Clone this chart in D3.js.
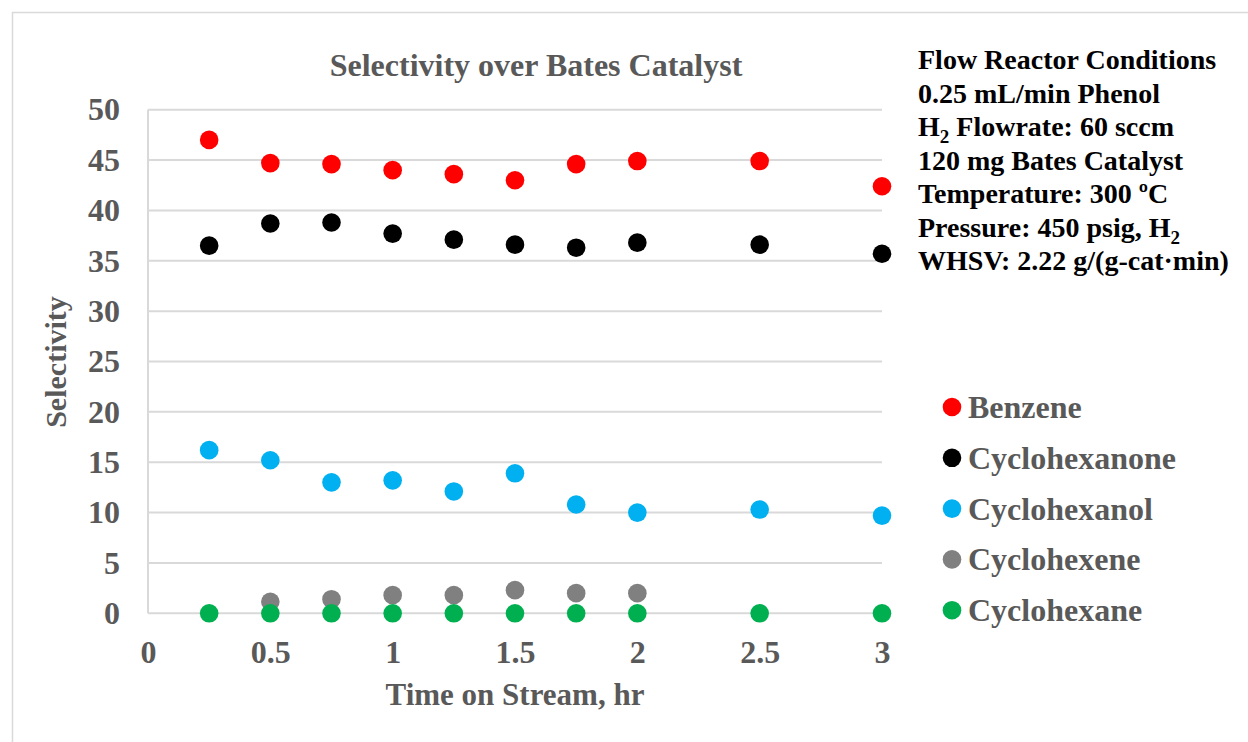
<!DOCTYPE html>
<html>
<head>
<meta charset="utf-8">
<script src="https://cdn.jsdelivr.net/npm/d3@7"></script>
<style>
  html, body { margin: 0; padding: 0; background: #fff; }
  svg { display: block; }
  text { font-family: "Liberation Serif", "Times New Roman", serif; font-weight: bold; }
</style>
</head>
<body>
<svg id="chart" width="1248" height="742"></svg>
<script>
// Time on stream (hr) for each sample
const timeFull = [0.25, 0.5, 0.75, 1, 1.25, 1.5, 1.75, 2, 2.5, 3];
const timeCyclohexene = [0.5, 0.75, 1, 1.25, 1.5, 1.75, 2];

// Selectivity (%) for each product
const benzene       = [47.0, 44.7, 44.6, 44.0, 43.6, 43.0, 44.6, 44.9, 44.9, 42.4];
const cyclohexanone = [36.5, 38.7, 38.8, 37.7, 37.1, 36.6, 36.3, 36.8, 36.6, 35.7];
const cyclohexanol  = [16.2, 15.2, 13.0, 13.2, 12.1, 13.9, 10.8, 10.0, 10.3, 9.7];
const cyclohexene   = [1.15, 1.4, 1.8, 1.8, 2.3, 2.0, 2.0];
const cyclohexane   = [0, 0, 0, 0, 0, 0, 0, 0, 0, 0];

const seriesNames  = ["Benzene", "Cyclohexanone", "Cyclohexanol", "Cyclohexene", "Cyclohexane"];
const seriesColors = ["#ff0000", "#000000", "#00b0f0", "#808080", "#00b050"];

const xTicks = [0, 0.5, 1, 1.5, 2, 2.5, 3];
const yTicks = [0, 5, 10, 15, 20, 25, 30, 35, 40, 45, 50];

const conditions = [
  [{t: "Flow Reactor Conditions"}],
  [{t: "0.25 mL/min Phenol"}],
  [{t: "H"}, {t: "2", sub: true}, {t: " Flowrate: 60 sccm"}],
  [{t: "120 mg Bates Catalyst"}],
  [{t: "Temperature: 300 ºC"}],
  [{t: "Pressure: 450 psig, H"}, {t: "2", sub: true}],
  [{t: "WHSV: 2.22 g/(g-cat·min)"}]
];

const series = [
  {name: seriesNames[0], color: seriesColors[0], x: timeFull, y: benzene},
  {name: seriesNames[1], color: seriesColors[1], x: timeFull, y: cyclohexanone},
  {name: seriesNames[2], color: seriesColors[2], x: timeFull, y: cyclohexanol},
  {name: seriesNames[3], color: seriesColors[3], x: timeCyclohexene, y: cyclohexene},
  {name: seriesNames[4], color: seriesColors[4], x: timeFull, y: cyclohexane}
];

const svg = d3.select("#chart");
const labelGray = "#595959";
const gridGray = "#d9d9d9";

// Outer chart frame (top and left edges)
svg.append("path")
  .attr("d", "M12.5,742 V12.5 H1248")
  .attr("fill", "none")
  .attr("stroke", "#d9d9d9")
  .attr("stroke-width", 1.5);

const plot = {left: 148, right: 882, top: 109.7, bottom: 613.3};

const x = d3.scaleLinear().domain([0, 3]).range([plot.left, plot.right]);
const y = d3.scaleLinear().domain([0, 50]).range([plot.bottom, plot.top]);

// Horizontal gridlines
svg.append("g")
  .selectAll("line")
  .data(yTicks)
  .join("line")
  .attr("x1", plot.left).attr("x2", plot.right)
  .attr("y1", d => y(d)).attr("y2", d => y(d))
  .attr("stroke", gridGray)
  .attr("stroke-width", 2);

// Vertical axis line
svg.append("line")
  .attr("x1", plot.left).attr("x2", plot.left)
  .attr("y1", plot.top).attr("y2", plot.bottom)
  .attr("stroke", gridGray)
  .attr("stroke-width", 2);

const tickFont = sel => sel
  .attr("fill", labelGray)
  .style("font-size", "32px")
  .style("font-family", "'Liberation Serif', serif")
  .style("font-weight", "bold");

// Y axis tick labels
const yAxis = d3.axisLeft(y).tickValues(yTicks).tickSize(0).tickPadding(28).tickFormat(d3.format("d"));
const gy = svg.append("g").attr("transform", `translate(${plot.left},0)`).call(yAxis);
gy.select(".domain").remove();
gy.selectAll("text").call(tickFont);

// X axis tick labels
const xAxis = d3.axisBottom(x).tickValues(xTicks).tickSize(0).tickPadding(27).tickFormat(d => String(d));
const gx = svg.append("g").attr("transform", `translate(0,${plot.bottom})`).call(xAxis);
gx.select(".domain").remove();
gx.selectAll("text").call(tickFont);

// Markers
series.forEach(s => {
  svg.append("g")
    .selectAll("circle")
    .data(s.x.map((t, i) => [t, s.y[i]]))
    .join("circle")
    .attr("cx", d => x(d[0]))
    .attr("cy", d => y(d[1]))
    .attr("r", 9.3)
    .attr("fill", s.color);
});

// Title
svg.append("text")
  .attr("x", 536).attr("y", 76)
  .attr("text-anchor", "middle")
  .attr("fill", labelGray)
  .style("font-size", "32px")
  .text("Selectivity over Bates Catalyst");

// Axis titles
svg.append("text")
  .attr("x", 515).attr("y", 705)
  .attr("text-anchor", "middle")
  .attr("fill", labelGray)
  .style("font-size", "31px")
  .text("Time on Stream, hr");

svg.append("text")
  .attr("transform", "translate(66,362) rotate(-90)")
  .attr("text-anchor", "middle")
  .attr("fill", labelGray)
  .style("font-size", "30px")
  .text("Selectivity");

// Reactor conditions block
const condX = 918, condY = 69, condStep = 33.5;
const cond = svg.append("text")
  .attr("x", condX).attr("y", condY)
  .attr("fill", "#000")
  .style("font-size", "28px");
conditions.forEach((line, i) => {
  line.forEach((part, j) => {
    const ts = cond.append("tspan").text(part.t);
    if (j === 0) ts.attr("x", condX).attr("y", condY + i * condStep);
    if (part.sub) ts.attr("dy", 7).style("font-size", "19px");
    else if (j > 0 && line[j - 1].sub) ts.attr("dy", -7);
  });
});

// Legend
const legend = svg.append("g")
  .selectAll("g")
  .data(series)
  .join("g")
  .attr("transform", (d, i) => `translate(952,${407 + i * 50.8})`);
legend.append("circle").attr("r", 9.3).attr("fill", d => d.color);
legend.append("text")
  .attr("x", 16).attr("y", 11)
  .attr("fill", labelGray)
  .style("font-size", "32px")
  .text(d => d.name);
</script>
</body>
</html>
